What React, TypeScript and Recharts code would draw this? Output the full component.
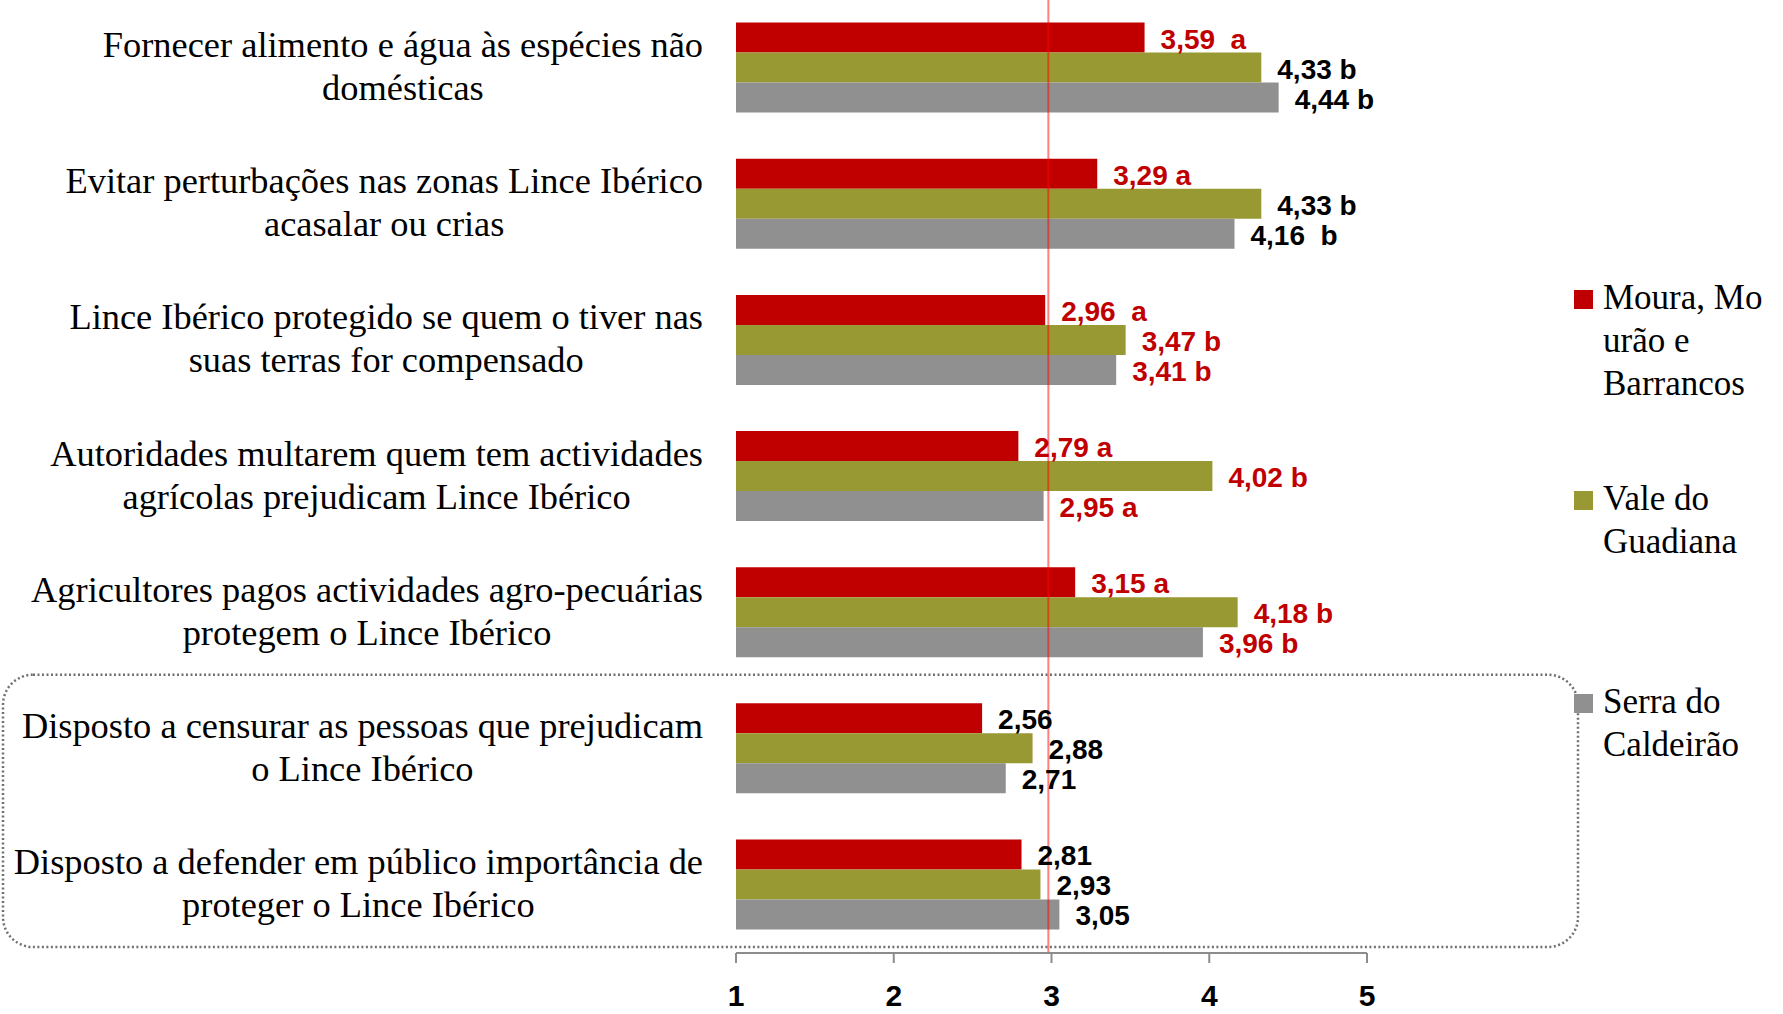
import React from "react";
import {
    BarChart,
    Bar,
    XAxis,
    YAxis,
    Legend,
    LabelList,
    ReferenceLine,
    ReferenceArea,
} from "recharts";

const categoryLines = [
    ["Fornecer alimento e água às espécies não", "domésticas"],
    ["Evitar perturbações nas zonas Lince Ibérico", "acasalar ou crias"],
    ["Lince Ibérico protegido se quem o tiver nas", "suas terras for compensado"],
    ["Autoridades multarem quem tem actividades", "agrícolas prejudicam Lince Ibérico"],
    ["Agricultores pagos actividades agro-pecuárias", "protegem o Lince Ibérico"],
    ["Disposto a censurar as pessoas que prejudicam", "o Lince Ibérico"],
    ["Disposto a defender em público importância de", "proteger o Lince Ibérico"],
];
const categories = categoryLines.map((l) => l.join(" "));

const moura = [3.59, 3.29, 2.96, 2.79, 3.15, 2.56, 2.81];
const vale = [4.33, 4.33, 3.47, 4.02, 4.18, 2.88, 2.93];
const serra = [4.44, 4.16, 3.41, 2.95, 3.96, 2.71, 3.05];

// letras de significância (com o espaçamento do original)
const mouraLetters = ["  a", " a", "  a", " a", " a", "", ""];
const valeLetters = [" b", " b", " b", " b", " b", "", ""];
const serraLetters = [" b", "  b", " b", " a", " b", "", ""];

const RED = "#C00000";
const BLACK = "#000000";
const mouraLabelColors = [RED, RED, RED, RED, RED, BLACK, BLACK];
const valeLabelColors = [BLACK, BLACK, RED, RED, RED, BLACK, BLACK];
const serraLabelColors = [BLACK, BLACK, RED, RED, RED, BLACK, BLACK];

const seriesNames = ["Moura, Mourão e Barrancos", "Vale do Guadiana", "Serra do Caldeirão"];
const legendLines = [
    ["Moura, Mo", "urão e", "Barrancos"],
    ["Vale do", "Guadiana"],
    ["Serra do", "Caldeirão"],
];
const xTicks = [1, 2, 3, 4, 5];
const referenceValue = 2.98;

const data = categories.map((c, i) => ({
    categoria: c,
    moura: moura[i],
    vale: vale[i],
    serra: serra[i],
}));

const SERIF = '"Liberation Serif", "Times New Roman", serif';
const SANS = '"Liberation Sans", Arial, sans-serif';
const CAT_FONT = 36.4;

let ctx: CanvasRenderingContext2D | null = null;
const measure = (t: string) => {
    if (!ctx) ctx = document.createElement("canvas").getContext("2d");
    if (!ctx) return t.length * 15;
    ctx.font = `${CAT_FONT}px ${SERIF}`;
    return ctx.measureText(t).width;
};

const CategoryTick = (props: any) => {
    const { x, y, payload } = props;
    const idx = categories.indexOf(payload.value);
    const lines = categoryLines[idx] || [payload.value];
    const right = x - 33;
    const w = Math.max(...lines.map(measure));
    const cx = right - w / 2;
    return (
        <g>
            {lines.map((l, i) => (
                <text
                    key={i}
                    x={cx}
                    y={y - 11 + i * 43}
                    textAnchor="middle"
                    fontFamily={SERIF}
                    fontSize={CAT_FONT}
                    fill="#000"
                >
                    {l}
                </text>
            ))}
        </g>
    );
};

const makeLabel = (letters: string[], colors: string[]) => (props: any) => {
    const { x, y, width, height, value, index } = props;
    return (
        <text
            x={x + width + 16}
            y={y + height / 2 + 11}
            fontFamily={SANS}
            fontWeight="bold"
            fontSize={28}
            fill={colors[index]}
            style={{ whiteSpace: "pre" }}
        >
            {Number(value).toFixed(2).replace(".", ",") + letters[index]}
        </text>
    );
};

const legendTops = [0, 201, 404];

const renderLegend = (props: any) => {
    const { payload } = props;
    return (
        <div style={{ position: "relative", width: 0, height: 0 }}>
            {payload.map((entry: any) => {
                const i = seriesNames.indexOf(entry.value);
                return (
                    <div
                        key={entry.value}
                        style={{
                            position: "absolute",
                            top: legendTops[i],
                            left: 0,
                            display: "flex",
                            alignItems: "flex-start",
                        }}
                    >
                        <div
                            style={{
                                width: 19,
                                height: 19,
                                marginTop: 14,
                                background: entry.color,
                                flexShrink: 0,
                            }}
                        />
                        <div
                            style={{
                                marginLeft: 10,
                                fontFamily: SERIF,
                                fontSize: 35,
                                lineHeight: "43px",
                                color: "#000",
                                textAlign: "left",
                                whiteSpace: "nowrap",
                            }}
                        >
                            {legendLines[i].map((l, j) => (
                                <div key={j}>{l}</div>
                            ))}
                        </div>
                    </div>
                );
            })}
        </div>
    );
};

const DottedBox = (props: any) => {
    const { x, y, width, height } = props;
    return (
        <rect
            x={x - 733}
            y={y - 6}
            width={width + 733 + 211}
            height={height}
            rx={30}
            ry={30}
            fill="none"
            stroke="#707070"
            strokeWidth={2.5}
            strokeDasharray="2 2.5"
        />
    );
};

export default function App() {
    return (
        <div style={{ position: "absolute", left: 0, top: 0, width: 1783, height: 1014, background: "#fff" }}>
            <BarChart
                width={1783}
                height={1014}
                data={data}
                layout="vertical"
                margin={{ top: 0, right: 416, bottom: 0, left: 0 }}
                barCategoryGap="16.6%"
                barGap={0}
            >
                <XAxis
                    type="number"
                    domain={[1, 5]}
                    ticks={xTicks}
                    allowDataOverflow
                    height={61}
                    tickSize={10}
                    tickMargin={22}
                    axisLine={{ stroke: "#8c8c8c", strokeWidth: 2 }}
                    tickLine={{ stroke: "#8c8c8c", strokeWidth: 2 }}
                    tick={{ fontSize: 30, fontWeight: "bold", fill: "#000", fontFamily: SANS }}
                />
                <YAxis
                    type="category"
                    dataKey="categoria"
                    width={736}
                    axisLine={false}
                    tickLine={false}
                    tickSize={0}
                    tickMargin={0}
                    interval={0}
                    tick={<CategoryTick />}
                />
                <Legend
                    content={renderLegend}
                    layout="vertical"
                    itemSorter={null as any}
                    wrapperStyle={{ position: "absolute", left: 1574, top: 276, width: 0, height: 0 }}
                />
                <ReferenceArea
                    y1={categories[5]}
                    y2={categories[6]}
                    x1={1}
                    x2={5}
                    ifOverflow="visible"
                    shape={<DottedBox />}
                />
                <Bar dataKey="moura" name={seriesNames[0]} fill="#C00000" isAnimationActive={false}>
                    <LabelList dataKey="moura" content={makeLabel(mouraLetters, mouraLabelColors)} />
                </Bar>
                <Bar dataKey="vale" name={seriesNames[1]} fill="#999933" isAnimationActive={false}>
                    <LabelList dataKey="vale" content={makeLabel(valeLetters, valeLabelColors)} />
                </Bar>
                <Bar dataKey="serra" name={seriesNames[2]} fill="#909090" isAnimationActive={false}>
                    <LabelList dataKey="serra" content={makeLabel(serraLetters, serraLabelColors)} />
                </Bar>
                <ReferenceLine
                    x={referenceValue}
                    stroke="#ff0000"
                    strokeOpacity={0.5}
                    strokeWidth={2}
                    ifOverflow="visible"
                />
            </BarChart>
        </div>
    );
}
